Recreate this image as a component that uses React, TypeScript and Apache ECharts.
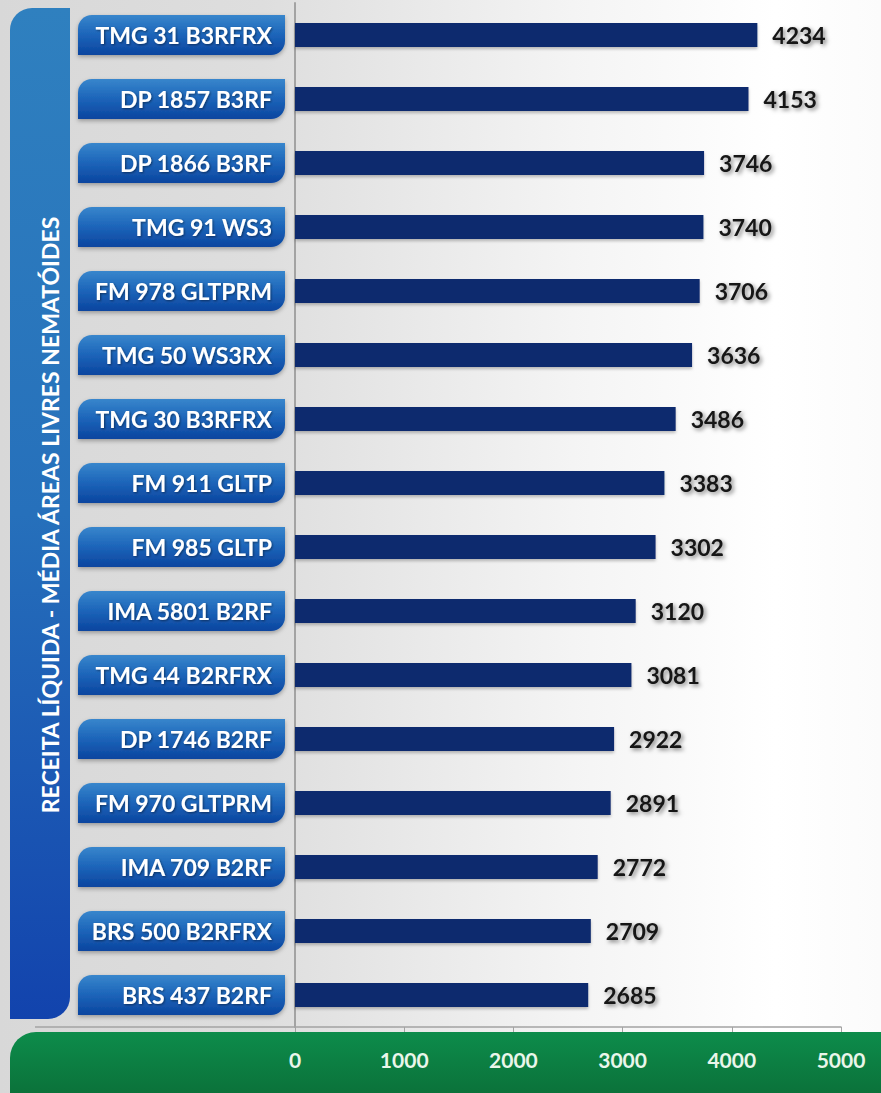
import React, { useEffect, useRef } from "react";
import * as echarts from "echarts";

const categories = [
  "TMG 31 B3RFRX",
  "DP 1857 B3RF",
  "DP 1866 B3RF",
  "TMG 91 WS3",
  "FM 978 GLTPRM",
  "TMG 50 WS3RX",
  "TMG 30 B3RFRX",
  "FM 911 GLTP",
  "FM 985 GLTP",
  "IMA 5801 B2RF",
  "TMG 44 B2RFRX",
  "DP 1746 B2RF",
  "FM 970 GLTPRM",
  "IMA 709 B2RF",
  "BRS 500 B2RFRX",
  "BRS 437 B2RF",
];
const values = [4234, 4153, 3746, 3740, 3706, 3636, 3486, 3383, 3302, 3120, 3081, 2922, 2891, 2772, 2709, 2685];
const axisMin = 0;
const axisMax = 5000;
const axisStep = 1000;
const title = "RECEITA LÍQUIDA - MÉDIA ÁREAS LIVRES NEMATÓIDES";

const FONT = "Lato, 'Open Sans', sans-serif";

export default function App() {
  const ref = useRef<HTMLDivElement>(null);
  useEffect(() => {
    document.body.style.margin = "0";
    const chart = echarts.init(ref.current!, null, { renderer: "svg" });
    const G = echarts.graphic;
    chart.setOption({
      animation: false,
      backgroundColor: "#ffffff",
      graphic: [
        {
          type: "rect",
          z: -100,
          silent: true,
          shape: { x: 0, y: 0, width: 881, height: 1093 },
          style: {
            fill: new G.LinearGradient(0, 0, 1, 0, [
              { offset: 0, color: "#d8d8d8" },
              { offset: 0.3, color: "#dedede" },
              { offset: 0.65, color: "#f4f4f4" },
              { offset: 0.88, color: "#ffffff" },
              { offset: 1, color: "#fbfbfb" },
            ]),
          },
        },
        {
          type: "rect",
          z: -50,
          silent: true,
          shape: { x: 10, y: 8, width: 60, height: 1011, r: [22, 0, 22, 0] },
          style: {
            fill: new G.LinearGradient(0, 0, 0, 1, [
              { offset: 0, color: "#2f80bf" },
              { offset: 0.5, color: "#2670bb" },
              { offset: 1, color: "#1243ad" },
            ]),
          },
        },
        {
          type: "text",
          z: -40,
          silent: true,
          x: 50,
          y: 515,
          rotation: Math.PI / 2,
          style: {
            text: title,
            fill: "#ffffff",
            font: `bold 23px ${FONT}`,
            align: "center",
            verticalAlign: "middle",
          },
        },
        {
          type: "rect",
          z: -50,
          silent: true,
          shape: { x: 10, y: 1032, width: 890, height: 80, r: [26, 0, 0, 0] },
          style: {
            fill: new G.LinearGradient(0, 0, 0, 1, [
              { offset: 0, color: "#0d8c4b" },
              { offset: 1, color: "#0a6a35" },
            ]),
          },
        },
        {
          type: "line",
          z: -30,
          silent: true,
          shape: { x1: 35, y1: 1027, x2: 295, y2: 1027 },
          style: { stroke: "#a3a3a3", lineWidth: 1.5 },
        },
      ],
      grid: { left: 295, right: 40, top: 3, bottom: 66, containLabel: false },
      xAxis: {
        type: "value",
        min: axisMin,
        max: axisMax,
        interval: axisStep,
        splitLine: { show: false },
        axisLine: { show: true, lineStyle: { color: "#a3a3a3", width: 1.5 } },
        axisTick: { show: true, length: 5, lineStyle: { color: "#a3a3a3" } },
        axisLabel: {
          color: "#eaf6ea",
          fontFamily: FONT,
          fontWeight: "bold",
          fontSize: 21,
          margin: 22,
          formatter: (v: number) => String(v),
        },
      },
      yAxis: {
        type: "category",
        inverse: true,
        data: categories,
        axisLine: { show: true, lineStyle: { color: "#a3a3a3", width: 2 } },
        axisTick: { show: false },
        axisLabel: {
          margin: 10,
          color: "#ffffff",
          fontFamily: FONT,
          fontWeight: "bold",
          fontSize: 23,
          align: "right",
          width: 194,
          height: 40,
          lineHeight: 40,
          padding: [0, 13, 0, 0],
          borderRadius: [14, 0, 14, 0],
          backgroundColor: new G.LinearGradient(0, 0, 0, 1, [
            { offset: 0, color: "#3886cc" },
            { offset: 0.5, color: "#1c64b9" },
            { offset: 1, color: "#0b459f" },
          ]),
          shadowColor: "rgba(0,0,0,0.3)",
          shadowBlur: 4,
          shadowOffsetY: 2,
          textShadowColor: "rgba(0,0,0,0.45)",
          textShadowBlur: 2,
          textShadowOffsetX: 1,
          textShadowOffsetY: 1,
        },
      },
      series: [
        {
          type: "bar",
          data: values,
          barWidth: 24,
          itemStyle: {
            color: "#102b6e",
            shadowColor: "rgba(0,0,0,0.25)",
            shadowBlur: 3,
            shadowOffsetY: 2,
          },
          label: {
            show: true,
            position: "right",
            distance: 15,
            color: "#151515",
            fontFamily: FONT,
            fontWeight: "bold",
            fontSize: 23,
            textShadowColor: "rgba(0,0,0,0.5)",
            textShadowBlur: 4,
            textShadowOffsetX: 2,
            textShadowOffsetY: 2,
          },
        },
      ],
    });
    return () => chart.dispose();
  }, []);
  return (
    <div
      ref={ref}
      style={{ position: "absolute", left: 0, top: 0, width: 881, height: 1093 }}
    />
  );
}
